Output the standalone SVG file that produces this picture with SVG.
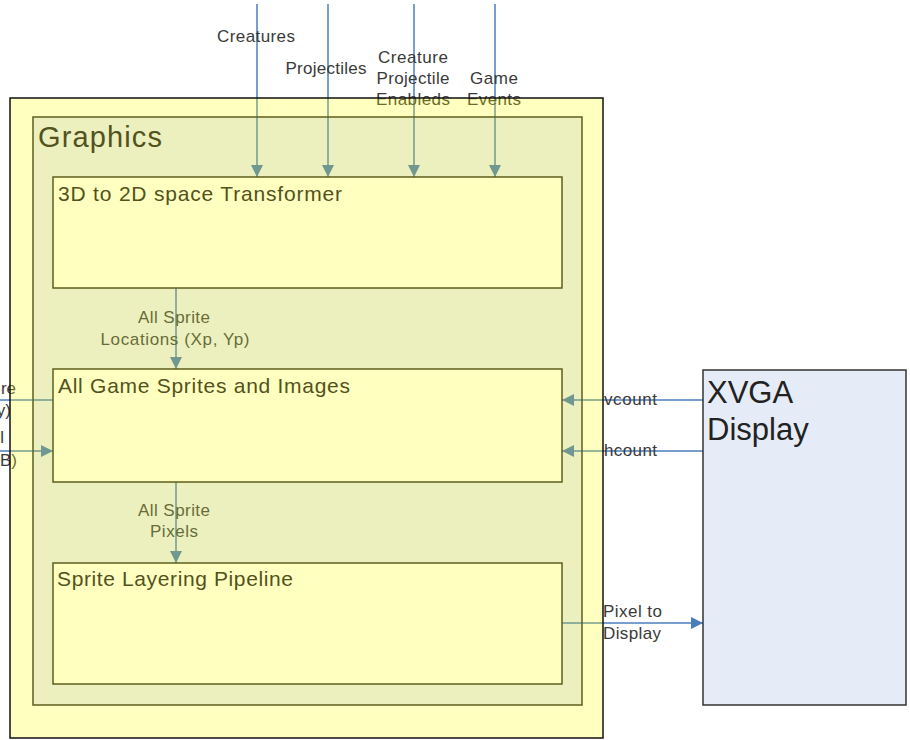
<svg xmlns="http://www.w3.org/2000/svg" width="910" height="740" viewBox="0 0 910 740">
<style>
.ln{stroke:#4a7ebb;stroke-width:1.5;fill:none}
.arr{marker-end:url(#ah)}
.lbl{font-family:"Liberation Sans",Arial,sans-serif;font-size:17px;fill:#3a3a3a}
.mid{text-anchor:middle}
.end{text-anchor:end}
.title{font-family:"Liberation Sans",Arial,sans-serif;font-size:21px;fill:#52521c}
.inner{fill:#ffffc0;stroke:#5e5e1e;stroke-width:1.5}
</style>
<defs>
<marker id="ah" markerUnits="userSpaceOnUse" markerWidth="12" markerHeight="12" viewBox="0 0 12 12" refX="12" refY="6" orient="auto">
<path d="M0,0 L12,6 L0,12 z" fill="#4a7ebb"/>
</marker>
</defs>
<rect width="910" height="740" fill="#ffffff"/>
<g id="connectors">
<line class="ln arr" x1="257" y1="4" x2="257" y2="177"/>
<line class="ln arr" x1="328" y1="4" x2="328" y2="177"/>
<line class="ln arr" x1="414" y1="4" x2="414" y2="177"/>
<line class="ln arr" x1="495" y1="4" x2="495" y2="177"/>
<line class="ln arr" x1="176" y1="288" x2="176" y2="369"/>
<line class="ln arr" x1="176" y1="482" x2="176" y2="563"/>
<line class="ln arr" x1="703" y1="400" x2="562" y2="400"/>
<line class="ln arr" x1="703" y1="451" x2="562" y2="451"/>
<line class="ln arr" x1="562" y1="623" x2="703" y2="623"/>
<line class="ln" x1="0" y1="400" x2="53" y2="400"/>
<line class="ln arr" x1="0" y1="451" x2="53" y2="451"/>
<text class="lbl mid" x="256" y="42" textLength="78">Creatures</text>
<text class="lbl mid" x="326" y="74" textLength="81">Projectiles</text>
<text class="lbl mid" x="413" y="63" textLength="70">Creature</text>
<text class="lbl mid" x="413" y="84" textLength="73">Projectile</text>
<text class="lbl mid" x="413" y="105" textLength="74">Enableds</text>
<text class="lbl mid" x="494" y="84" textLength="48">Game</text>
<text class="lbl mid" x="494" y="105" textLength="54">Events</text>
<text class="lbl mid" x="174" y="323" textLength="72">All Sprite</text>
<text class="lbl mid" x="175" y="345" textLength="149">Locations (Xp, Yp)</text>
<text class="lbl mid" x="174" y="516" textLength="72">All Sprite</text>
<text class="lbl mid" x="174" y="537" textLength="48">Pixels</text>
<text class="lbl" x="604" y="405" textLength="53">vcount</text>
<text class="lbl" x="604" y="456" textLength="53">hcount</text>
<text class="lbl" x="603" y="617" textLength="59">Pixel to</text>
<text class="lbl" x="603" y="639" textLength="58">Display</text>
<text class="lbl end" x="16" y="394">re</text>
<text class="lbl end" x="11" y="416">y)</text>
<text class="lbl end" x="4" y="443">l</text>
<text class="lbl end" x="17" y="466">B)</text>
</g>
<g id="graphics-outer">
<rect x="10" y="98" width="593" height="640" fill="#ffff00" fill-opacity="0.25" stroke="#111111" stroke-width="1.5"/>
</g>
<g id="graphics">
<rect x="33" y="117" width="549" height="588" fill="#4169bf" fill-opacity="0.1" stroke="#5e5e1e" stroke-width="1.5"/>
<text x="38" y="147" font-family="'Liberation Sans',Arial,sans-serif" font-size="29" fill="#52521c" textLength="124">Graphics</text>
</g>
<g id="transformer">
<rect class="inner" x="53" y="177" width="509" height="111"/>
<text class="title" x="58" y="201" textLength="284">3D to 2D space Transformer</text>
</g>
<g id="sprites">
<rect class="inner" x="53" y="369" width="509" height="113"/>
<text class="title" x="58" y="393" textLength="292">All Game Sprites and Images</text>
</g>
<g id="pipeline">
<rect class="inner" x="53" y="563" width="509" height="121"/>
<text class="title" x="57" y="586" textLength="236">Sprite Layering Pipeline</text>
</g>
<g id="xvga">
<rect x="703" y="370" width="203" height="335" fill="#e6ecf7" stroke="#333333" stroke-width="1.5"/>
<text x="707" y="403" font-family="'Liberation Sans',Arial,sans-serif" font-size="31" fill="#222222">XVGA</text>
<text x="707" y="440" font-family="'Liberation Sans',Arial,sans-serif" font-size="31" fill="#222222">Display</text>
</g>
</svg>
